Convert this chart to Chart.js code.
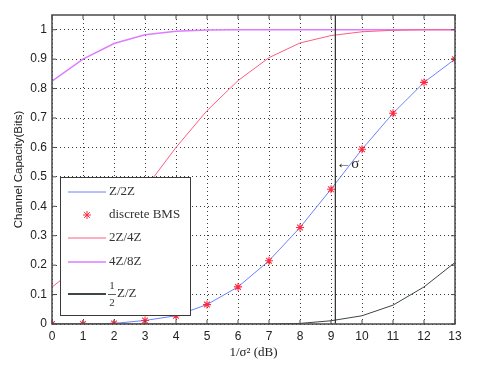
<!DOCTYPE html>
<html>
<head>
<meta charset="utf-8">
<script src="https://cdn.jsdelivr.net/npm/chart.js@4/dist/chart.umd.min.js"></script>
<style>
html,body{margin:0;padding:0;background:#fff;}
canvas{display:block;}
</style>
</head>
<body>
<canvas id="c" width="490" height="376"></canvas>
<script>
// ---- data ----
const snr = [0,1,2,3,4,5,6,7,8,9,10,11,12,13];
const xTicks = [0,1,2,3,4,5,6,7,8,9,10,11,12,13];
const yTicks = [0,0.1,0.2,0.3,0.4,0.5,0.6,0.7,0.8,0.9,1];
const z2z   = [0,0,0.002,0.012,0.028,0.066,0.126,0.215,0.328,0.458,0.594,0.716,0.821,0.90];
const bms   = [0,0,0.002,0.012,0.028,0.066,0.126,0.215,0.328,0.458,0.594,0.716,0.821,0.90];
const z4z   = [0.125,0.21,0.33,0.46,0.60,0.725,0.827,0.905,0.955,0.98,0.993,0.998,1,1];
const z8z   = [0.825,0.90,0.953,0.983,0.995,0.999,1,1,1,1,1,1,1,1];
const halfZ = [0,0,0,0,0,0,0,0,0.002,0.011,0.028,0.064,0.126,0.209];
const sigmaX = 9.14;
const legendLabels = ['Z/2Z','discrete BMS','2Z/4Z','4Z/8Z','Z/Z'];

const cBlue = '#6f7fff', cRed = '#ff5c82', cMag = '#dd7cff', cBlack = '#3c4644', cStar = '#ff2a40';

function pts(ys){ return snr.map((x,i)=>({x:x,y:ys[i]})); }

const framePlugin = {
  id:'frame',
  afterDatasetsDraw(chart){
    const {ctx, chartArea:a, scales:{x,y}} = chart;
    ctx.save();
    // sigma line
    const sx = x.getPixelForValue(sigmaX);
    ctx.strokeStyle = '#2a2a2a'; ctx.lineWidth = 1.2;
    ctx.beginPath(); ctx.moveTo(sx, a.top); ctx.lineTo(sx, a.bottom); ctx.stroke();
    ctx.fillStyle = '#222';
    ctx.font = '15px "Liberation Serif"';
    ctx.textBaseline = 'middle'; ctx.textAlign = 'left';
    ctx.fillText('\u2190\u03c3', sx + 1, y.getPixelForValue(0.545));
    // frame
    ctx.strokeStyle = '#4a4a4a'; ctx.lineWidth = 1.5;
    ctx.strokeRect(a.left, a.top, a.right - a.left, a.bottom - a.top);
    // inward ticks
    ctx.lineWidth = 1;
    ctx.beginPath();
    xTicks.forEach(v=>{ const p = x.getPixelForValue(v);
      ctx.moveTo(p, a.bottom); ctx.lineTo(p, a.bottom-4);
      ctx.moveTo(p, a.top); ctx.lineTo(p, a.top+4); });
    yTicks.forEach(v=>{ const p = y.getPixelForValue(v);
      ctx.moveTo(a.left, p); ctx.lineTo(a.left+4, p);
      ctx.moveTo(a.right, p); ctx.lineTo(a.right-4, p); });
    ctx.stroke();
    ctx.restore();
  },
  afterDraw(chart){
    const ctx = chart.ctx;
    ctx.save();
    const L = 60, T = 177, W = 130, H = 138;
    ctx.fillStyle = '#fff';
    ctx.fillRect(L, T, W, H);
    ctx.strokeStyle = '#3a3a3a'; ctx.lineWidth = 1;
    ctx.strokeRect(L+0.5, T+0.5, W, H);
    const rows = [192, 215, 238, 262, 294];
    const cols = [cBlue, null, cRed, cMag, cBlack];
    const widths = [1, 0, 1, 1.5, 2];
    ctx.font = '13px "Liberation Serif"';
    ctx.textBaseline = 'middle'; ctx.textAlign = 'left';
    rows.forEach((ry,i)=>{
      if (cols[i]) {
        ctx.strokeStyle = cols[i]; ctx.lineWidth = widths[i];
        ctx.beginPath(); ctx.moveTo(68, ry); ctx.lineTo(106, ry); ctx.stroke();
      } else {
        ctx.strokeStyle = cStar; ctx.lineWidth = 1;
        const r = 4, cx = 87;
        ctx.beginPath();
        ctx.moveTo(cx-r, ry); ctx.lineTo(cx+r, ry);
        ctx.moveTo(cx, ry-r); ctx.lineTo(cx, ry+r);
        const d = r*0.707;
        ctx.moveTo(cx-d, ry-d); ctx.lineTo(cx+d, ry+d);
        ctx.moveTo(cx-d, ry+d); ctx.lineTo(cx+d, ry-d);
        ctx.stroke();
      }
      ctx.fillStyle = '#333';
      if (i < 4) {
        ctx.fillText(legendLabels[i], 109, ry);
      } else {
        ctx.font = '11px "Liberation Serif"';
        ctx.textAlign = 'center';
        ctx.fillText('1', 112, ry-8);
        ctx.fillText('2', 112, ry+9);
        ctx.strokeStyle = '#333'; ctx.lineWidth = 0.8;
        ctx.beginPath(); ctx.moveTo(108, ry+0.5); ctx.lineTo(116, ry+0.5); ctx.stroke();
        ctx.font = '13px "Liberation Serif"';
        ctx.textAlign = 'left';
        ctx.fillText(legendLabels[i], 117, ry);
      }
    });
    ctx.restore();
  }
};

new Chart(document.getElementById('c'), {
  type: 'line',
  data: {
    datasets: [
      {label:'discrete BMS', data: pts(bms), showLine:false, pointStyle:'star', pointRadius:4,
       borderColor:cStar, backgroundColor:cStar, pointBorderWidth:1.1, order:0},
      {label:'Z/2Z', data: pts(z2z), borderColor:cBlue, borderWidth:1, pointRadius:0, tension:0, order:3},
      {label:'2Z/4Z', data: pts(z4z), borderColor:cRed, borderWidth:1, pointRadius:0, tension:0, order:2},
      {label:'4Z/8Z', data: pts(z8z), borderColor:cMag, borderWidth:1.5, pointRadius:0, tension:0, order:4},
      {label:'1/2 Z/Z', data: pts(halfZ), borderColor:cBlack, borderWidth:1, pointRadius:0, tension:0, order:1}
    ]
  },
  options: {
    responsive:false, animation:false,
    layout:{padding:{top:15, right:35, left:0, bottom:0}},
    plugins:{legend:{display:false}, tooltip:{enabled:false}},
    scales:{
      x:{type:'linear', min:0, max:13,
         afterBuildTicks(s){ s.ticks = xTicks.map(v=>({value:v})); },
         afterFit(s){ s.height = 52; },
         grid:{color:'#3a3a3a', lineWidth:1, drawTicks:false},
         border:{display:false, dash:[1,3]},
         ticks:{padding:5, color:'#222', font:{family:'"Liberation Sans"', size:12}, maxRotation:0},
         title:{display:true, text:'1/\u03c3\u00b2 (dB)', color:'#222',
                font:{family:'"Liberation Serif"', size:13}, padding:{top:0,bottom:16}}
      },
      y:{type:'linear', min:0, max:1.05,
         afterBuildTicks(s){ s.ticks = yTicks.map(v=>({value:v})); },
         afterFit(s){ s.width = 52; },
         grid:{color:'#3a3a3a', lineWidth:1, drawTicks:false},
         border:{display:false, dash:[1,3]},
         ticks:{padding:5, color:'#222', font:{family:'"Liberation Sans"', size:12},
                callback:v=>String(Math.round(v*10)/10)},
         title:{display:true, text:'Channel Capacity(Bits)', color:'#222',
                font:{family:'"Liberation Sans"', size:11.5}, padding:{top:12,bottom:0}}
      }
    }
  },
  plugins:[framePlugin]
});
</script>
</body>
</html>
